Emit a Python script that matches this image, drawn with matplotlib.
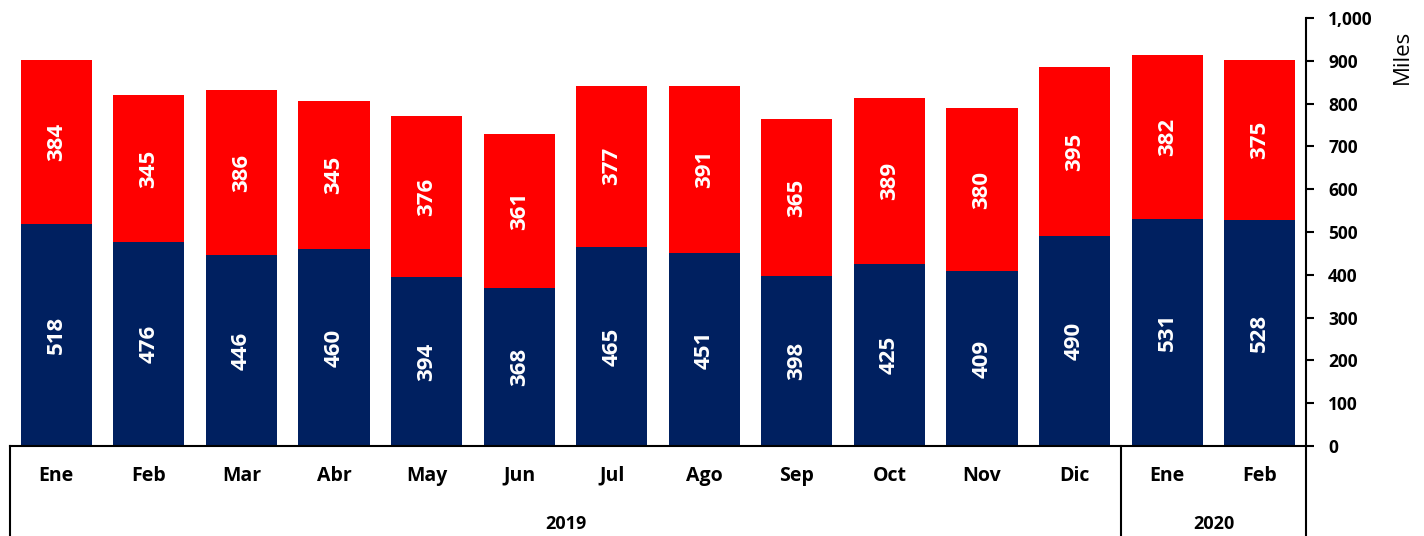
import matplotlib.pyplot as plt
import numpy as np

months = ['Ene', 'Feb', 'Mar', 'Abr', 'May', 'Jun', 'Jul', 'Ago', 'Sep', 'Oct', 'Nov', 'Dic', 'Ene', 'Feb']
years = ['2019', '2020']
year_counts = [12, 2]
navy_vals = [518, 476, 446, 460, 394, 368, 465, 451, 398, 425, 409, 490, 531, 528]
red_vals = [384, 345, 386, 345, 376, 361, 377, 391, 365, 389, 380, 395, 382, 375]

NAVY = '#002060'
RED = '#FF0000'

plt.rcParams['font.family'] = ['Open Sans', 'DejaVu Sans']

fig = plt.figure(figsize=(14.24, 5.36), dpi=100)
ax = fig.add_axes([10 / 1424, 1 - 446 / 536, 1296 / 1424, 428 / 536])

x = np.arange(len(months))
ax.bar(x, navy_vals, width=0.77, color=NAVY)
ax.bar(x, red_vals, width=0.77, bottom=navy_vals, color=RED)

for xi, n, r in zip(x, navy_vals, red_vals):
    ax.text(xi, n / 2, str(n), rotation=90, ha='center', va='center',
            color='white', fontsize=16, fontweight='bold')
    ax.text(xi, n + r / 2, str(r), rotation=90, ha='center', va='center',
            color='white', fontsize=16, fontweight='bold')

ax.set_xlim(-0.5, len(months) - 0.5)
ax.set_ylim(0, 1000)
ax.yaxis.tick_right()
ax.yaxis.set_label_position('right')
ax.set_yticks(range(0, 1001, 100))
ax.set_yticklabels([f'{v:,}' for v in range(0, 1001, 100)], fontsize=12.5, fontweight='bold')
ax.tick_params(axis='y', direction='out', length=6, width=1.5, pad=10)
ax.set_ylabel('Miles', fontsize=16, rotation=90, labelpad=14)
ax.yaxis.label.set_position((1, 0.91))

for s in ['top', 'left']:
    ax.spines[s].set_visible(False)
ax.spines['right'].set_linewidth(1.5)
ax.spines['bottom'].set_linewidth(1.5)
ax.set_xticks([])

# multi-level category axis
for xi, m in zip(x, months):
    ax.text(xi, -0.07, m, transform=ax.get_xaxis_transform(), ha='center', va='center',
            fontsize=14, fontweight='bold')

start = 0
bounds = [-0.5]
for yr, cnt in zip(years, year_counts):
    mid = start + (cnt - 1) / 2
    ax.text(mid, -0.182, yr, transform=ax.get_xaxis_transform(), ha='center', va='center',
            fontsize=13, fontweight='bold')
    start += cnt
    bounds.append(start - 0.5)

for b in bounds:
    ax.plot([b, b], [0, -0.22], transform=ax.get_xaxis_transform(), color='black',
            lw=1.5, clip_on=False)

fig.savefig('out.png', dpi=100)
